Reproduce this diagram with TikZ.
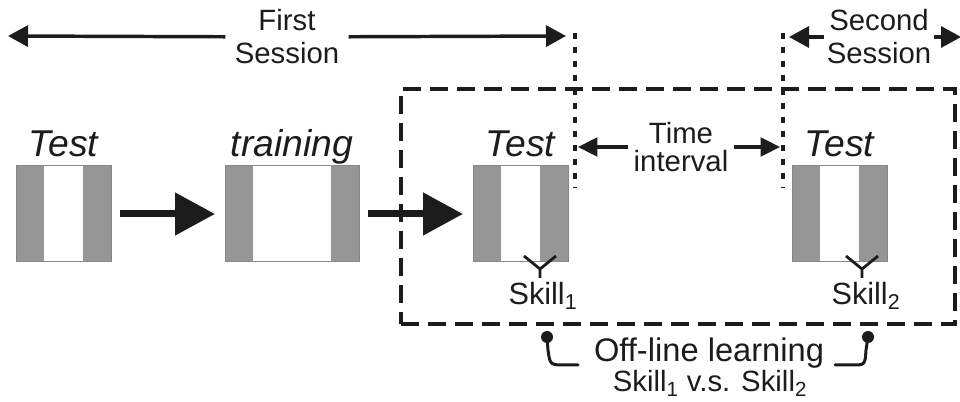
\documentclass[tikz,border=0pt]{standalone}
\usepackage{fontspec}
\setmainfont{Liberation Sans}
\usetikzlibrary{arrows.meta,positioning}
\definecolor{bargray}{RGB}{150,150,150}
\definecolor{edgegray}{RGB}{135,135,135}
\definecolor{ink}{RGB}{28,28,28}
\tikzset{
  trial/.style={draw=edgegray, line width=0.75pt, minimum height=72pt,
    inner sep=0pt, outer sep=0pt,
    path picture={
      \fill[bargray] (path picture bounding box.south west) rectangle
        ([xshift=21pt]path picture bounding box.north west);
      \fill[bargray] (path picture bounding box.south east) rectangle
        ([xshift=-21pt]path picture bounding box.north east);
    }},
  phase/.style={font=\fontsize{28}{30}\selectfont\itshape, text=ink,
    inner sep=0pt, anchor=base},
  session/.style={font=\fontsize{22}{24.75}\selectfont, text=ink,
    align=center, inner xsep=7pt, inner ysep=0pt, outer sep=0pt},
  span/.style={draw=ink, line width=2.6pt, -{Triangle[length=15pt,width=15.75pt]}},
  gap/.style={draw=ink, line width=2.4pt, -{Triangle[length=14.5pt,width=14pt]}},
  flow/.style={draw=ink, line width=5.25pt, -{Triangle[length=30pt,width=31pt]},
    shorten <=6.75pt, shorten >=7.5pt},
  cut/.style={draw=ink, line width=2.4pt, dash pattern=on 4.5pt off 6pt},
  frame/.style={draw=ink, line width=2.4pt, dash pattern=on 13.5pt off 6.75pt,
    inner sep=0pt, outer sep=0pt},
  fork/.style={draw=ink, line width=2.1pt},
  skill/.style={font=\fontsize{23}{25}\selectfont, text=ink, inner sep=0pt, anchor=base},
  note/.style={font=\fontsize{22}{24}\selectfont, text=ink, inner sep=0pt, anchor=base},
  bracket/.style={draw=ink, line width=2.25pt, line cap=round}
}
\begin{document}
\begin{tikzpicture}[x=0.75pt, y=-0.75pt]
  \useasboundingbox (0,0) rectangle (960,402);
  % the four blocks
  \draw
    (63.5,214) node[trial, minimum width=71.25pt] (pre){}
    (292,214) node[trial, minimum width=100.5pt] (train){}
    (520.5,214) node[trial, minimum width=71.25pt] (post1){}
    (839.5,214) node[trial, minimum width=71.25pt] (post2){};
  \node[phase] (pre-lbl) at ([yshift=6.75pt]pre.north) {Test};
  \node[phase] (train-lbl) at ([yshift=6.75pt]train.north) {training};
  \node[phase] (post1-lbl) at ([yshift=6.75pt]post1.north) {Test};
  \node[phase] (post2-lbl) at ([yshift=6.75pt]post2.north) {Test};
  \draw[flow] (pre) -- (train);
  \draw[flow] (train) -- (post1);
  % retention frame and session cuts
  \node[frame, minimum width=415.5pt, minimum height=176.25pt] (retention) at (678,206.5) {};
  \coordinate (cut1-top) at (575,33);
  \coordinate (cut1-bot) at (575,188);
  \coordinate (cut2-top) at (783,33);
  \coordinate (cut2-bot) at (783,188);
  \draw[cut] (cut1-top) -- (cut1-bot);
  \draw[cut] (cut2-top) -- (cut2-bot);
  % sessions
  \node[session] (first) at (287,37) {First\\Session};
  \node[session, inner xsep=2pt] (second) at (879,37) {Second\\Session};
  \node[session, font=\fontsize{22}{21}\selectfont, inner xsep=4pt] (interval) at (681,147) {Time\\interval};
  \coordinate (first-l) at (8,36);
  \coordinate (first-r) at (566,36);
  \coordinate (second-l) at (789,37);
  \coordinate (second-r) at (961,37);
  \coordinate (interval-l) at (578,147);
  \coordinate (interval-r) at (780,147);
  \begin{scope}
    \draw[span] (first) -- (first-l);
    \draw[span] (first) -- (first-r);
    \draw[span] (second) -- (second-l);
    \draw[span] (second) -- (second-r);
    \draw[gap] (interval) -- (interval-l);
    \draw[gap] (interval) -- (interval-r);
  \end{scope}
  % skills
  \coordinate (fork1) at (540,269);
  \coordinate (fork2) at (862,269);
  \draw[fork] (fork1) +(-16,-13) -- (fork1) -- +(16,-13) (fork1) -- +(0,9);
  \draw[fork] (fork2) +(-16,-13) -- (fork2) -- +(16,-13) (fork2) -- +(0,9);
  \node[skill] (skill1) at (543,305) {Skill\textsubscript{1}};
  \node[skill] (skill2) at (866,305) {Skill\textsubscript{2}};
  % off-line learning
  \node[note, font=\fontsize{24.5}{26}\selectfont] (offline) at (709,362) {Off-line learning};
  \node[note] (versus) at (710,392) {Skill\textsubscript{1} v.s. Skill\textsubscript{2}};
  \coordinate (pin1) at (547,337);
  \coordinate (pin2) at (868,337);
  \fill[ink] (pin1) circle (4.5pt);
  \fill[ink] (pin2) circle (4.5pt);
  \draw[bracket] (pin1) -- (548,350) .. controls (550,365) .. (566,365) -- (578,365);
  \draw[bracket] (835,365) -- (852,365) .. controls (865,365) .. (866,350) -- (pin2);
\end{tikzpicture}
\end{document}
